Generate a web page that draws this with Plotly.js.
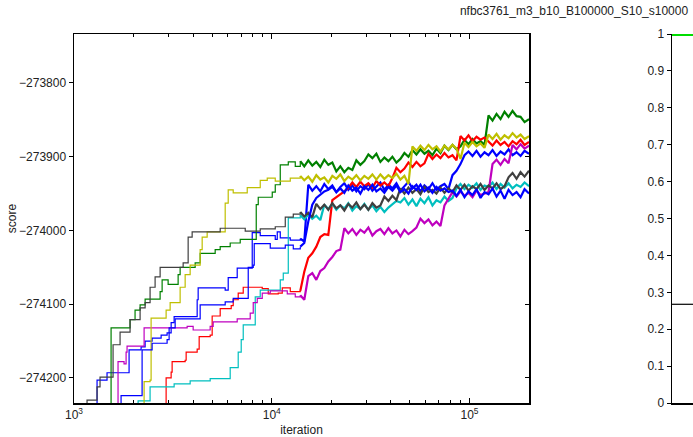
<!DOCTYPE html>
<html><head><meta charset="utf-8">
<script src="https://cdn.plot.ly/plotly-3.0.1.min.js"></script>
<style>html,body{margin:0;padding:0;background:#fff}#chart{width:693px;height:437px}</style>
</head><body><div id="chart"></div>
<script>
// shared iteration grid for the dense (noisy) part of every chain
const gridIter = [13941, 14607, 15304, 16035, 16800, 17602, 18443, 19323, 20246, 21212, 22225, 23286, 24397, 25562, 26782, 28061, 29400, 30804, 32275, 33815, 35430, 37121, 38893, 40750, 42695, 44733, 46869, 49106, 51450, 53906, 56480, 59176, 62001, 64961, 68062, 71311, 74715, 78282, 82019, 85934, 90036, 94334, 98837, 103555, 108499, 113678, 119105, 124790, 130748, 136989, 143528, 150380, 157558, 165080, 172960, 181217, 189868, 200000];

const blue1IterEarly = [1233, 1308, 1469, 1899, 2184, 2289, 2483, 2758, 2957, 3099, 3209, 4196, 4245, 5815, 6023, 6689, 7967, 8746, 10417, 10663, 11042, 12407];
const blue1ScoreEarly = [-274243, -274203, -274193, -274162, -274158, -274150, -274146, -274142, -274139, -274125, -274117, -274094, -274078, -274081, -274064, -274051, -274003, -274007, -274012, -274002, -274010, -274013];
const blue1ScoreLate = [-274011, -274015, -273938, -273946, -273940, -273947, -273937, -273944, -273939, -273948, -273941, -273936, -273945, -273939, -273947, -273940, -273944, -273937, -273946, -273941, -273935, -273945, -273938, -273943, -273936, -273946, -273940, -273934, -273943, -273938, -273947, -273939, -273944, -273936, -273945, -273940, -273937, -273944, -273925, -273919, -273910, -273898, -273893, -273899, -273892, -273900, -273894, -273898, -273891, -273899, -273893, -273897, -273890, -273898, -273894, -273899, -273892, -273896];

const greenIterEarly = [1522, 1540, 1921, 2036, 2159, 2289, 2726, 2790, 2992, 3362, 3441, 4099, 4345, 5175, 5486, 6164, 6927, 8348, 8545, 10058, 10417, 11042, 12122, 13151];
const greenScoreEarly = [-274243, -274132, -274121, -274108, -274101, -274093, -274083, -274067, -274073, -274060, -274050, -274044, -274031, -274026, -274022, -274017, -274012, -273965, -273955, -273948, -273938, -273911, -273907, -273913];
const greenScoreLate = [-273906, -273913, -273905, -273912, -273907, -273914, -273904, -273911, -273908, -273920, -273913, -273921, -273915, -273918, -273905, -273911, -273906, -273897, -273902, -273896, -273907, -273901, -273906, -273900, -273908, -273903, -273895, -273900, -273891, -273897, -273890, -273896, -273892, -273898, -273889, -273895, -273885, -273891, -273884, -273890, -273886, -273877, -273883, -273876, -273882, -273879, -273884, -273844, -273851, -273842, -273849, -273839, -273846, -273838, -273845, -273846, -273853, -273849];

const redIterEarly = [2889, 2923, 3099, 3135, 3648, 3691, 4196, 4295, 4882, 4997, 5486, 6237, 6384, 6767, 7174, 8952, 9601, 10788, 11302, 12407];
const redScoreEarly = [-274243, -274200, -274192, -274178, -274176, -274165, -274161, -274144, -274142, -274116, -274106, -274102, -274094, -274085, -274077, -274079, -274086, -274085, -274078, -274083];
const redScoreLate = [-274082, -274056, -274037, -274031, -274022, -274009, -274005, -274006, -273959, -273955, -273952, -273947, -273942, -273935, -273941, -273934, -273940, -273936, -273942, -273933, -273939, -273935, -273940, -273929, -273915, -273921, -273916, -273908, -273914, -273907, -273913, -273909, -273896, -273903, -273897, -273902, -273895, -273901, -273898, -273905, -273872, -273878, -273871, -273879, -273873, -273877, -273874, -273879, -273885, -273878, -273884, -273880, -273886, -273879, -273883, -273877, -273884, -273880];

const cyanIterEarly = [2084, 2109, 2425, 3209, 3867, 4882, 6164, 6767, 7008, 7174, 8251, 8746, 11042, 11435, 12122];
const cyanScoreEarly = [-274243, -274231, -274212, -274208, -274204, -274201, -274186, -274165, -274148, -274128, -274090, -274081, -274067, -274058, -273983];
const cyanScoreLate = [-273979, -273985, -273978, -273984, -273980, -273986, -273965, -273971, -273964, -273972, -273966, -273970, -273963, -273973, -273967, -273971, -273964, -273972, -273966, -273974, -273968, -273975, -273969, -273965, -273960, -273962, -273956, -273965, -273958, -273967, -273957, -273963, -273955, -273966, -273959, -273962, -273954, -273960, -273956, -273943, -273937, -273944, -273938, -273942, -273936, -273945, -273939, -273941, -273935, -273944, -273937, -273942, -273936, -273943, -273938, -273941, -273935, -273940];

const magentaIterEarly = [1651, 1670, 1791, 1834, 1855, 2262, 3734, 4005, 4882, 5056, 6689, 7783, 8061, 8446, 8952, 9828, 11981, 13151];
const magentaScoreEarly = [-274243, -274178, -274181, -274165, -274157, -274132, -274130, -274135, -274130, -274124, -274120, -274112, -274098, -274092, -274085, -274082, -274086, -274090];
const magentaScoreLate = [-274088, -274094, -274062, -274058, -274067, -274055, -274051, -274042, -274036, -274028, -274026, -273997, -274004, -273998, -274006, -273999, -274003, -273996, -274007, -274001, -273998, -274005, -273997, -274004, -274000, -274008, -273999, -274005, -274001, -273996, -273984, -273990, -273985, -273993, -273988, -273994, -273966, -273956, -273948, -273954, -273947, -273953, -273949, -273955, -273946, -273952, -273950, -273948, -273910, -273904, -273911, -273903, -273909, -273884, -273890, -273883, -273889, -273885];

const yellowIterEarly = [2236, 2262, 2425, 2454, 2923, 3063, 3441, 3648, 3867, 4345, 4448, 4714, 5815, 6023, 6384, 7516, 8746, 9490, 10417, 12407];
const yellowScoreEarly = [-274243, -274205, -274203, -274119, -274108, -274098, -274077, -274060, -274047, -274026, -274009, -274002, -273963, -273945, -273949, -273942, -273932, -273929, -273933, -273929];
const yellowScoreLate = [-273926, -273932, -273927, -273934, -273925, -273931, -273928, -273935, -273926, -273930, -273924, -273933, -273927, -273931, -273925, -273932, -273926, -273930, -273924, -273931, -273924, -273930, -273925, -273929, -273923, -273931, -273926, -273937, -273886, -273892, -273885, -273891, -273884, -273890, -273886, -273893, -273885, -273890, -273884, -273889, -273903, -273881, -273887, -273880, -273886, -273882, -273888, -273870, -273876, -273869, -273877, -273871, -273875, -273868, -273874, -273870, -273876, -273872];

const grayIterEarly = [1072, 1164, 1308, 1354, 1576, 1710, 1921, 2159, 2289, 2425, 2571, 2726, 3564, 3778, 3958, 5486, 7343, 8746, 10417, 11705, 12849];
const grayScoreEarly = [-274243, -274230, -274212, -274199, -274155, -274138, -274121, -274105, -274098, -274077, -274063, -274050, -274044, -274009, -274002, -273997, -274001, -273998, -273995, -273982, -273978];
const grayScoreLate = [-273975, -273981, -273976, -273982, -273964, -273971, -273965, -273972, -273963, -273970, -273966, -273973, -273964, -273969, -273962, -273971, -273965, -273972, -273963, -273969, -273966, -273954, -273960, -273953, -273959, -273943, -273950, -273942, -273949, -273944, -273951, -273941, -273948, -273945, -273950, -273942, -273949, -273943, -273948, -273939, -273945, -273938, -273946, -273940, -273944, -273937, -273945, -273939, -273943, -273936, -273944, -273940, -273928, -273922, -273930, -273921, -273927, -273919];

const blue2IterEarly = [1710, 1730, 2210, 2483, 2957, 3027, 3247, 4345, 5815, 6384, 7604, 8061, 8155, 9828, 11705, 12849];
const blue2ScoreEarly = [-274243, -274224, -274162, -274153, -274148, -274132, -274120, -274101, -274097, -274092, -274050, -274047, -274018, -274024, -274020, -274025];
const blue2ScoreLate = [-274022, -274017, -273988, -273965, -273956, -273951, -273947, -273945, -273941, -273948, -273943, -273949, -273939, -273946, -273942, -273950, -273940, -273945, -273938, -273947, -273943, -273949, -273941, -273946, -273939, -273948, -273944, -273950, -273940, -273945, -273938, -273947, -273942, -273949, -273941, -273946, -273943, -273948, -273946, -273953, -273945, -273955, -273947, -273952, -273944, -273956, -273948, -273951, -273943, -273954, -273946, -273957, -273945, -273952, -273948, -273955, -273944, -273950];

// right panel
const rightX = [0, 1];
const rightGreen = [1, 1];
const rightBlack = [0.2675, 0.2675];

const xTickVals = [1000, 10000, 100000];
const xTickText = ['10<sup>3</sup>', '10<sup>4</sup>', '10<sup>5</sup>'];
const xMinorVals = [2000,3000,4000,5000,6000,7000,8000,9000,20000,30000,40000,50000,60000,70000,80000,90000,200000];

const chains = [
  {ie: blue1IterEarly, se: blue1ScoreEarly, sl: blue1ScoreLate, c: '#0000ff'},
  {ie: greenIterEarly, se: greenScoreEarly, sl: greenScoreLate, c: '#008000'},
  {ie: redIterEarly, se: redScoreEarly, sl: redScoreLate, c: '#ff0000'},
  {ie: cyanIterEarly, se: cyanScoreEarly, sl: cyanScoreLate, c: '#00bfbf'},
  {ie: magentaIterEarly, se: magentaScoreEarly, sl: magentaScoreLate, c: '#bf00bf'},
  {ie: yellowIterEarly, se: yellowScoreEarly, sl: yellowScoreLate, c: '#bfbf00'},
  {ie: grayIterEarly, se: grayScoreEarly, sl: grayScoreLate, c: '#404040'},
  {ie: blue2IterEarly, se: blue2ScoreEarly, sl: blue2ScoreLate, c: '#0000ff'}
];

const yRange = [-274234, -273733.6];
const traces = [];
chains.forEach(ch => {
  // staircase part (accepted moves)
  traces.push({
    x: ch.ie.concat([gridIter[0]]), y: ch.se.concat([ch.sl[0]]),
    type: 'scatter', mode: 'lines', xaxis: 'x', yaxis: 'y',
    line: {color: ch.c, width: 1.2, shape: 'hv'},
    hoverinfo: 'skip', showlegend: false
  });
  // dense noisy part
  traces.push({
    x: gridIter, y: ch.sl,
    type: 'scatter', mode: 'lines', xaxis: 'x', yaxis: 'y',
    line: {color: ch.c, width: 2.2, shape: 'linear'},
    hoverinfo: 'skip', showlegend: false
  });
});
traces.push({x: [1000], y: [-274000], type: 'scatter', mode: 'none', xaxis: 'x', yaxis: 'y3', showlegend: false, hoverinfo: 'skip'});
traces.push({x: rightX, y: rightBlack, type: 'scatter', mode: 'lines', xaxis: 'x2', yaxis: 'y2',
  line: {color: '#000000', width: 1.2}, showlegend: false, hoverinfo: 'skip'});
traces.push({x: rightX, y: rightGreen, type: 'scatter', mode: 'lines', xaxis: 'x2', yaxis: 'y2',
  line: {color: '#00dd00', width: 4}, showlegend: false, hoverinfo: 'skip'});

const fnt = {family: 'Liberation Sans, Arial, sans-serif', size: 12, color: '#222'};
const layout = {
  width: 693, height: 437,
  margin: {l: 74, r: 0, t: 34, b: 34, pad: 0},
  paper_bgcolor: '#fff', plot_bgcolor: 'rgba(0,0,0,0)',
  font: fnt,
  title: {text: 'nfbc3761_m3_b10_B100000_S10_s10000', font: fnt, x: 0.8283, xanchor: 'center', xref: 'container',
          y: 0.975, yanchor: 'middle', yref: 'container'},
  xaxis: {
    type: 'log', domain: [0, 0.7351], range: [3, Math.log10(200000)], anchor: 'y',
    showgrid: false, zeroline: false,
    showline: true, linecolor: '#000', linewidth: 1.5, mirror: 'ticks',
    ticks: 'inside', ticklen: 5, tickwidth: 1, tickcolor: '#000',
    tickmode: 'array', tickvals: xTickVals, ticktext: xTickText, tickfont: fnt,
    minor: {tickmode: 'array', tickvals: xMinorVals, ticks: 'inside', ticklen: 3, tickcolor: '#000', showgrid: false},
    title: {text: 'iteration', font: fnt, standoff: 4}
  },
  yaxis: {
    domain: [0, 1], range: yRange, anchor: 'x',
    showgrid: false, zeroline: false,
    showline: true, linecolor: '#000', linewidth: 1.5,
    ticks: 'outside', ticklen: 4, tickcolor: '#000', dtick: 100, tick0: -274200,
    tickformat: 'd', tickfont: fnt,
    title: {text: 'score', font: fnt, standoff: 0}
  },
  yaxis3: {
    overlaying: 'y', side: 'right', anchor: 'x', range: yRange,
    showgrid: false, zeroline: false, showticklabels: false,
    showline: true, linecolor: '#000', linewidth: 1.5,
    ticks: 'inside', ticklen: 4, tickcolor: '#000', dtick: 100, tick0: -274200
  },
  xaxis2: {
    domain: [0.9661, 1], range: [0, 1], anchor: 'y2',
    showgrid: false, zeroline: false, showticklabels: false, ticks: '',
    showline: true, linecolor: '#000', linewidth: 1.5
  },
  yaxis2: {
    domain: [0, 1], range: [0, 1], anchor: 'x2',
    showgrid: false, zeroline: false,
    showline: true, linecolor: '#000', linewidth: 1.5,
    ticks: 'outside', ticklen: 4, tickcolor: '#000', dtick: 0.1, tick0: 0,
    tickfont: fnt
  }
};
Plotly.newPlot('chart', traces, layout, {staticPlot: true, displayModeBar: false});
</script>
</body></html>
